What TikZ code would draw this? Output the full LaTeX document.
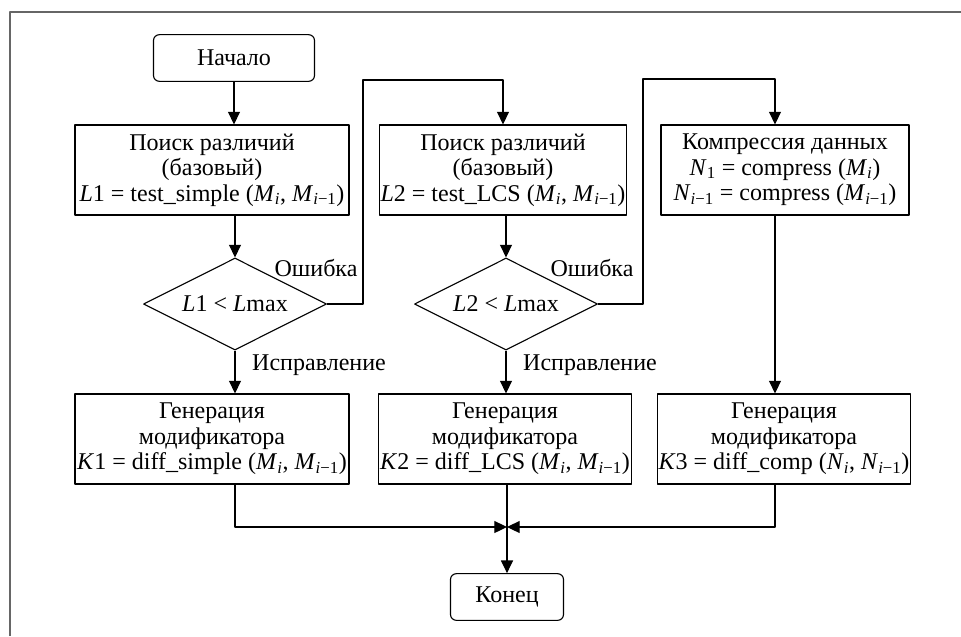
\documentclass[tikz,border=0pt]{standalone}
\usepackage{fontspec}
\setmainfont{Liberation Serif}
\usetikzlibrary{arrows.meta,shapes.geometric,calc}
\newcommand{\Mi}{\textit{M}\textsubscript{\textit{i}}}
\newcommand{\Mp}{\textit{M}\textsubscript{\textit{i}−1}}
\newcommand{\Ni}{\textit{N}\textsubscript{\textit{i}}}
\newcommand{\Np}{\textit{N}\textsubscript{\textit{i}−1}}
\begin{document}
\begin{tikzpicture}[x=0.03cm, y=-0.03cm, font=\fontsize{20.5}{21.8}\selectfont, line join=round, line width=0.95pt, >={Triangle[length=3.8mm,width=3.6mm]}]
\tikzset{blok/.style={draw, align=center, inner sep=1pt, minimum height=2.7cm},
term/.style={draw, rounded corners=5pt, minimum height=1.4cm},
romb/.style={draw, diamond, shape aspect=2, minimum width=5.49cm, minimum height=2.76cm, inner sep=0pt},
lab/.style={inner sep=0pt}}
\useasboundingbox (0,0) rectangle (961,636);
\draw[black!60, line width=0.9pt] (10,636)--(10,12)--(961,12);
\node[term, minimum width=4.83cm] (start) at (234,58) {Начало};
\node[blok, minimum width=8.22cm] (s1) at (212,170) {Поиск различий\\(базовый)\\\textit{L}1 = test\_simple (\Mi, \Mp)};
\node[romb] (d1) at (235,304) {\textit{L}1 < \textit{L}max};
\node[blok, minimum width=8.22cm] (g1) at (212,439) {Генерация\\модификатора\\\textit{K}1 = diff\_simple (\Mi, \Mp)};
\node[blok, minimum width=7.32cm] (s2) at (503,170) {Поиск различий\\(базовый)\\\textit{L}2 = test\_LCS (\Mi, \Mp)};
\node[romb] (d2) at (506,304) {\textit{L}2 < \textit{L}max};
\node[blok, minimum width=7.59cm] (g2) at (505,439) {Генерация\\модификатора\\\textit{K}2 = diff\_LCS (\Mi, \Mp)};
\node[blok, minimum width=7.44cm] (s3) at (785,170) {Компрессия данных\\\textit{N}\textsubscript{1} = compress (\Mi)\\\Np{} = compress (\Mp)};
\node[blok, minimum width=7.5cm] (g3) at (784,439) {Генерация\\модификатора\\\textit{K}3 = diff\_comp (\Ni, \Np)};
\node[term, minimum width=3.39cm] (fin) at (507,597) {Конец};
\coordinate (up1) at (363,80);
\coordinate (up2) at (643,79);
\coordinate (c3) at (775,0);
\coordinate (join) at (507,527);
\draw[->] (start.south) -- (start.south |- s1.north);
\draw[->] (s1.south -| d1) -- (d1.north);
\draw[->] (d1.south) -- node[lab, right, xshift=0.5cm, yshift=0.2cm] (fix1) {Исправление} (d1 |- g1.north);
\draw[->] (d1.east) -| (up1) -| (s2.north);
\node[lab, anchor=east] (err1) at ($(up1 |- d1.east)+(-5,-36)$) {Ошибка};
\draw[->] (s2.south -| d2) -- (d2.north);
\draw[->] (d2.south) -- node[lab, right, xshift=0.5cm, yshift=0.2cm] (fix2) {Исправление} (d2 |- g2.north);
\draw[->] (d2.east) -| (up2) -| (s3.north -| c3);
\node[lab, anchor=east] (err2) at ($(up2 |- d2.east)+(-9,-36)$) {Ошибка};
\draw[->] (s3.south -| c3) -- (g3.north -| c3);
\draw[->] (g1.south -| d1) |- (join);
\draw[->] (g3.south -| c3) |- (join);
\draw[->] (g2.south -| fin) -- (fin.north);
\end{tikzpicture}
\end{document}
